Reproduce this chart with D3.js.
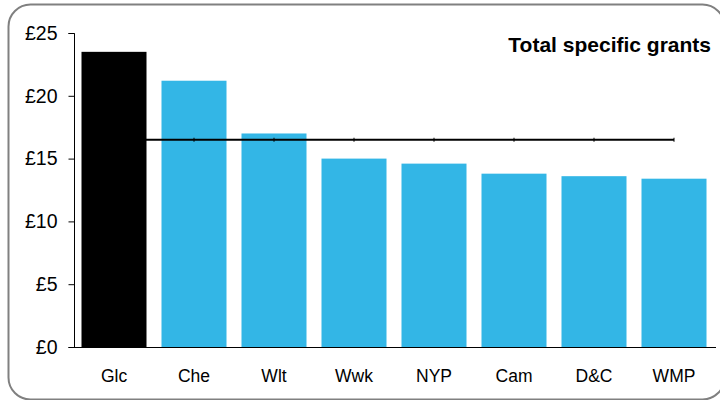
<!DOCTYPE html>
<html><head><meta charset="utf-8">
<script src="https://cdn.jsdelivr.net/npm/d3@7"></script>
<style>body{margin:0;background:#fff}svg{display:block}</style>
</head><body>
<script>
const categories = ["Glc","Che","Wlt","Wwk","NYP","Cam","D&C","WMP"];
const values = [23.5, 21.2, 17.0, 15.0, 14.6, 13.8, 13.6, 13.4];
const average = 16.5;
const yTicks = [0, 5, 10, 15, 20, 25];
const title = "Total specific grants";

const W = 720, H = 400;
const FONT = "Liberation Sans, Arial, sans-serif";
const svg = d3.select("body").append("svg").attr("width", W).attr("height", H);

svg.append("rect").attr("x", 8.5).attr("y", 4.5).attr("width", 716).attr("height", 395)
  .attr("rx", 22).attr("fill", "#fff").attr("stroke", "#808080").attr("stroke-width", 2);

const x = d3.scaleBand().domain(categories).range([74, 714]).paddingInner(0.1875).paddingOuter(0.09375);
const y = d3.scaleLinear().domain([0, 25]).range([347, 33]);

const barData = categories.map((c, i) => ({c, v: values[i], i}));

// blue bars
svg.append("g").selectAll("rect").data(barData.slice(1))
  .join("rect")
  .attr("x", d => x(d.c)).attr("width", x.bandwidth())
  .attr("y", d => y(d.v)).attr("height", d => y(0) - y(d.v))
  .attr("fill", "#33B6E6");

// average line
const lineData = categories.map(c => ({c, v: average}));
svg.append("path").datum(lineData)
  .attr("d", d3.line().x(d => x(d.c) + x.bandwidth() / 2).y(d => y(d.v)))
  .attr("fill", "none").attr("stroke", "#000").attr("stroke-width", 2);
svg.append("g").selectAll("line").data(lineData).join("line")
  .attr("x1", d => x(d.c) + x.bandwidth() / 2).attr("x2", d => x(d.c) + x.bandwidth() / 2)
  .attr("y1", d => y(d.v) - 2).attr("y2", d => y(d.v) + 2).attr("stroke", "#000").attr("stroke-width", 1);

// Glc bar on top of the line
svg.append("g").selectAll("rect").data(barData.slice(0, 1)).join("rect")
  .attr("x", d => x(d.c)).attr("width", x.bandwidth())
  .attr("y", d => y(d.v)).attr("height", d => y(0) - y(d.v))
  .attr("fill", "#000");

// y axis
const yAxis = d3.axisLeft(y).tickValues(yTicks).tickFormat(d => "£" + d).tickSize(6).tickPadding(11);
const gy = svg.append("g").attr("transform", "translate(74.5,0)").call(yAxis);
gy.select(".domain").attr("d", "M-6,33.5H0V347.5H-6").attr("stroke", "#000");
gy.selectAll("text").attr("font-family", FONT).attr("font-size", 19.5).attr("fill", "#000");

// x axis
const xAxis = d3.axisBottom(x).tickSize(0).tickPadding(22);
const gx = svg.append("g").attr("transform", "translate(0,347.5)").call(xAxis);
gx.select(".domain").attr("d", "M74,0H716").attr("stroke", "#000");
gx.selectAll("text").attr("font-family", FONT).attr("font-size", 17.5).attr("fill", "#000");

svg.append("text").attr("x", 711).attr("y", 51.5).attr("text-anchor", "end")
  .attr("font-family", FONT).attr("font-weight", "bold")
  .attr("font-size", 21).text(title);
</script>
</body></html>
